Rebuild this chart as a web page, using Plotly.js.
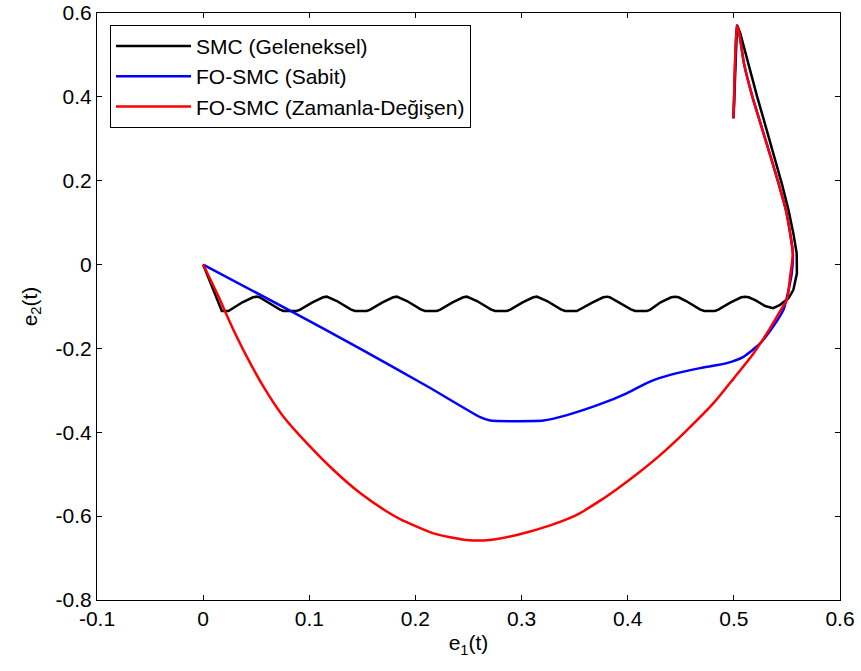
<!DOCTYPE html>
<html>
<head>
<meta charset="utf-8">
<script src="https://cdn.plot.ly/plotly-3.0.1.min.js"></script>
<style>html,body{margin:0;padding:0;background:#fff;}#chart{width:861px;height:671px;}</style>
</head>
<body>
<div id="chart"></div>
<script>
// SMC (Geleneksel)
const smcE1 = [0.4997,0.503,0.506,0.5135,0.5220,0.5305,0.5390,0.5455,0.5515,0.5560,0.5592,0.5594,0.556,0.5515,0.5436,0.537,0.5295,0.521,0.514,0.5107,0.507,0.497,0.485,0.482,0.472,0.468,0.455,0.448,0.4447,0.441,0.431,0.421,0.418,0.407,0.403,0.390,0.383,0.3804,0.377,0.367,0.355,0.352,0.341,0.337,0.324,0.317,0.3144,0.311,0.301,0.289,0.286,0.275,0.271,0.258,0.251,0.2484,0.245,0.235,0.223,0.220,0.209,0.205,0.192,0.185,0.1825,0.179,0.169,0.157,0.154,0.143,0.139,0.126,0.119,0.1165,0.113,0.103,0.091,0.088,0.0757,0.072,0.059,0.053,0.0506,0.047,0.037,0.027,0.0239,0.0176,0.012,0.006,0];
const smcE2 = [0.349,0.571,0.552,0.48,0.40,0.325,0.25,0.19,0.130,0.075,0.027,-0.021,-0.061,-0.080,-0.096,-0.104,-0.099,-0.086,-0.078,-0.0765,-0.078,-0.090,-0.108,-0.1107,-0.1107,-0.107,-0.087,-0.078,-0.0765,-0.078,-0.090,-0.108,-0.1107,-0.1107,-0.107,-0.087,-0.078,-0.0765,-0.078,-0.090,-0.108,-0.1107,-0.1107,-0.107,-0.087,-0.078,-0.0765,-0.078,-0.090,-0.108,-0.1107,-0.1107,-0.107,-0.087,-0.078,-0.0765,-0.078,-0.090,-0.108,-0.1107,-0.1107,-0.107,-0.087,-0.078,-0.0765,-0.078,-0.090,-0.108,-0.1107,-0.1107,-0.107,-0.087,-0.078,-0.0765,-0.078,-0.090,-0.108,-0.1107,-0.1107,-0.107,-0.087,-0.078,-0.0765,-0.078,-0.090,-0.107,-0.1107,-0.1107,-0.075,-0.038,0];

// FO-SMC (Sabit)
const sabitE1 = [0.4997,0.503,0.505,0.5095,0.5175,0.5265,0.5355,0.5425,0.5490,0.5530,0.5556,0.5546,0.5515,0.5467,0.537,0.5248,0.509,0.4934,0.468,0.44,0.421,0.399,0.374,0.3427,0.3206,0.2704,0.261,0.2123,0.1495,0.0836,0];
const sabitE2 = [0.349,0.571,0.553,0.48,0.40,0.325,0.25,0.19,0.13,0.075,0.027,-0.02,-0.061,-0.108,-0.148,-0.188,-0.22,-0.235,-0.247,-0.263,-0.279,-0.307,-0.333,-0.359,-0.372,-0.372,-0.364,-0.292,-0.203,-0.112,0];

// FO-SMC (Zamanla-Değişen)
const zamanE1 = [0.4997,0.503,0.505,0.5095,0.5175,0.5265,0.5355,0.5425,0.5490,0.5530,0.5556,0.553,0.55,0.545,0.534,0.5185,0.4997,0.481,0.4525,0.4275,0.41,0.39,0.374,0.352,0.327,0.2955,0.270,0.2484,0.217,0.1856,0.173,0.1479,0.1228,0.0977,0.0757,0.0568,0.0411,0.0286,0.0207,0.016,0];
const zamanE2 = [0.349,0.571,0.553,0.48,0.40,0.325,0.25,0.19,0.13,0.075,0.027,-0.029,-0.084,-0.105,-0.152,-0.212,-0.272,-0.330,-0.403,-0.461,-0.497,-0.535,-0.563,-0.597,-0.622,-0.645,-0.657,-0.657,-0.641,-0.607,-0.589,-0.545,-0.490,-0.426,-0.363,-0.291,-0.2196,-0.156,-0.112,-0.0844,0];

const xTicks = [-0.1,0,0.1,0.2,0.3,0.4,0.5,0.6];
const xTickText = ['-0.1','0','0.1','0.2','0.3','0.4','0.5','0.6'];
const yTicks = [-0.8,-0.6,-0.4,-0.2,0,0.2,0.4,0.6];
const yTickText = ['-0.8','-0.6','-0.4','-0.2','0','0.2','0.4','0.6'];

const names = ['SMC (Geleneksel)','FO-SMC (Sabit)','FO-SMC (Zamanla-Değişen)'];
const colors = ['#000000','#0000ff','#ff0000'];

const traces = [
  {x: smcE1, y: smcE2, name: names[0], mode:'lines', line:{color:colors[0], width:2.5}},
  {x: sabitE1, y: sabitE2, name: names[1], mode:'lines', line:{color:colors[1], width:2.5, shape:'spline', smoothing:0.5}},
  {x: zamanE1, y: zamanE2, name: names[2], mode:'lines', line:{color:colors[2], width:2.5, shape:'spline', smoothing:0.6}}
];

const fontFam = 'Arial, "Liberation Sans", sans-serif';

const layout = {
  width:861, height:671,
  margin:{l:97, r:21, t:13, b:71},
  paper_bgcolor:'#fff', plot_bgcolor:'#fff',
  font:{family:fontFam, size:21, color:'#000'},
  xaxis: {
    showgrid:false, zeroline:false, showline:true, linecolor:'#000', linewidth:1,
    mirror:'ticks', ticks:'inside', ticklen:5, tickcolor:'#000', tickwidth:1,
    tickfont:{family:fontFam, size:21, color:'#000'},
    tickmode:'array', tickvals:xTicks, ticktext:xTickText,
    range:[-0.1,0.6],
    title:{text:'e<sub>1</sub>(t)', font:{family:fontFam, size:21, color:'#000'}, standoff:6}
  },
  yaxis: {
    showgrid:false, zeroline:false, showline:true, linecolor:'#000', linewidth:1,
    mirror:'ticks', ticks:'inside', ticklen:5, tickcolor:'#000', tickwidth:1,
    tickfont:{family:fontFam, size:21, color:'#000'},
    tickmode:'array', tickvals:yTicks, ticktext:yTickText,
    range:[-0.8,0.6],
    title:{text:'e<sub>2</sub>(t)', font:{family:fontFam, size:21, color:'#000'}, standoff:12}
  },
  showlegend:true,
  legend:{
    x:0.0175, y:0.98, xanchor:'left', yanchor:'top',
    bgcolor:'#fff', bordercolor:'#000', borderwidth:1,
    font:{family:fontFam, size:21, color:'#000'},
    itemwidth:75, tracegroupgap:0
  }
};

Plotly.newPlot('chart', traces, layout, {displayModeBar:false, staticPlot:true});
</script>
</body>
</html>
